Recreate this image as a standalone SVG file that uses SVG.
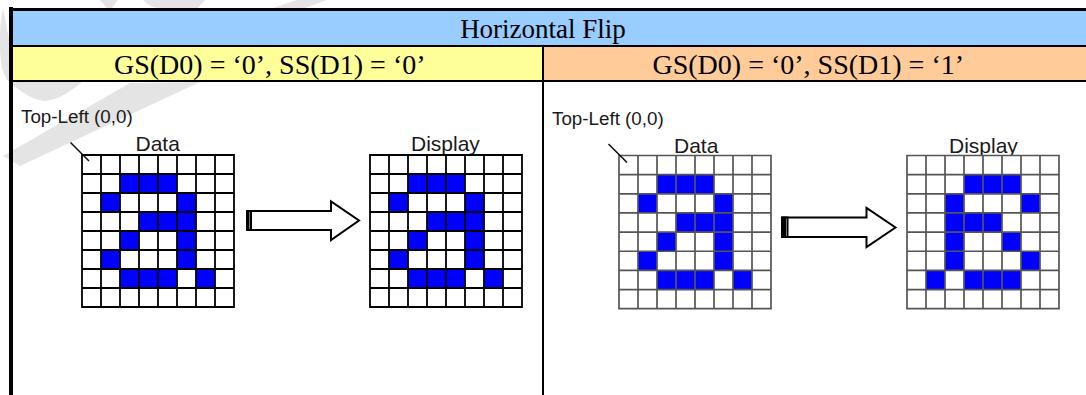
<svg xmlns="http://www.w3.org/2000/svg" width="1086" height="395" viewBox="0 0 1086 395">
<style>
.sf{font-family:"Liberation Serif","Times New Roman",serif;fill:#000;font-size:28px}
.ti{font-size:27px}
.ss{font-family:"Liberation Sans",Arial,sans-serif;fill:#1a1a1a}
.tl{font-size:18.8px}
.hd{font-size:21px}
.bar{stroke:none}
.rule{fill:#000;stroke:none}
.wm{fill:#e4e4e4;stroke:none}
.tick{fill:none;stroke:#111;stroke-width:1.6}
.arrow{fill:#fff;stroke:#000;stroke-width:2}
.cap{fill:#000;stroke:none}
.capin{fill:#777;stroke:none}
.cells{fill:#fff}
.on{fill:#00f;stroke:none}
.gA{fill:none;stroke:#000;stroke-width:1.8}
.gB{fill:none;stroke:#555;stroke-width:1.7}
</style>
<defs>
<path id="lines" d="M0 0h152v152h-152zM19 0v152M38 0v152M57 0v152M76 0v152M95 0v152M114 0v152M133 0v152M0 19h152M0 38h152M0 57h152M0 76h152M0 95h152M0 114h152M0 133h152"/>
<path id="dataOn" d="M38 19h57v19h-57zM19 38h19v19h-19zM95 38h19v19h-19zM57 57h57v19h-57zM38 76h19v19h-19zM95 76h19v19h-19zM19 95h19v19h-19zM95 95h19v19h-19zM38 114h57v19h-57zM114 114h19v19h-19z"/>
<path id="flipOn" d="M57 19h57v19h-57zM38 38h19v19h-19zM114 38h19v19h-19zM38 57h57v19h-57zM38 76h19v19h-19zM95 76h19v19h-19zM38 95h19v19h-19zM114 95h19v19h-19zM19 114h19v19h-19zM57 114h57v19h-57z"/>
</defs>
<rect width="1086" height="395" fill="#fff"/>
<g id="watermark">
<path class="wm" d="M3 8Q-3 40 2 68Q6 82 13 85Q28 98 43 101Q60 101 82 82L13 60Z"/>
<path class="wm" d="M3 156L130 83L200 82L20 166Z"/>
<path class="wm" d="M100 0L107 8L112 8L118 0Z"/>
<path class="wm" d="M143 0Q150 8 160 8L198 8L205 0H165Z"/>
<path class="wm" d="M273 8L297 0H327L305 8Z"/>
</g>
<g id="title">
<rect class="bar" x="11" y="9" width="1075" height="37" fill="#99ccff"/>
<text class="sf ti" x="543" y="38" text-anchor="middle">Horizontal Flip</text>
</g>
<g id="header-left">
<rect class="bar" x="11" y="46" width="532" height="35" fill="#ffff99"/>
<text class="sf" x="114" y="74">GS(D0) = ‘0’, SS(D1) = ‘0’</text>
</g>
<g id="header-right">
<rect class="bar" x="543" y="46" width="543" height="35" fill="#ffcc99"/>
<text class="sf" x="652.5" y="74">GS(D0) = ‘0’, SS(D1) = ‘1’</text>
</g>
<g id="frame">
<rect class="rule" x="9" y="7" width="4" height="388"/>
<rect class="rule" x="9" y="8" width="1077" height="3"/>
<rect class="rule" x="11" y="45" width="1075" height="2"/>
<rect class="rule" x="11" y="80" width="1075" height="2"/>
<rect class="rule" x="542" y="46" width="2" height="349"/>
</g>
<g id="labels-left">
<text class="ss tl" x="21" y="123">Top-Left (0,0)</text>
<text class="ss hd" x="135.5" y="150.5">Data</text>
<text class="ss hd" x="411" y="150.5">Display</text>
</g>
<g id="labels-right">
<text class="ss tl" x="552" y="125">Top-Left (0,0)</text>
<text class="ss hd" x="674" y="152.5">Data</text>
<text class="ss hd" x="949" y="152.5">Display</text>
</g>
<g id="grid-data-left" transform="translate(82 155)">
<rect class="cells" width="152" height="152"/>
<use href="#dataOn" class="on"/>
<use href="#lines" class="gA"/>
</g>
<g id="grid-display-left" transform="translate(370 155)">
<rect class="cells" width="152" height="152"/>
<use href="#dataOn" class="on"/>
<use href="#lines" class="gA"/>
</g>
<g id="grid-data-right" transform="translate(619 155.5) scale(1 1.008)">
<rect class="cells" width="152" height="152"/>
<use href="#dataOn" class="on"/>
<use href="#lines" class="gB"/>
</g>
<g id="grid-display-right" transform="translate(907 155.5) scale(1 1.008)">
<rect class="cells" width="152" height="152"/>
<use href="#flipOn" class="on"/>
<use href="#lines" class="gB"/>
</g>
<g id="connectors">
<path class="tick" d="M70.5 142.5L89 161"/>
<path class="tick" d="M608.5 144L627 162.5"/>
<path class="arrow" d="M247 211H331V201.5L359 220.5L331 240V230H247Z"/>
<rect class="cap" x="246" y="210" width="6" height="21"/>
<rect class="capin" x="249" y="212" width="1" height="17"/>
<path class="arrow" d="M782.5 217.5H866.5V208L895.5 227.5L866.5 247V237H782.5Z"/>
<rect class="cap" x="781" y="216.5" width="7.5" height="21.5"/>
<rect class="capin" x="786" y="218.5" width="1" height="17.5"/>
</g>
</svg>
